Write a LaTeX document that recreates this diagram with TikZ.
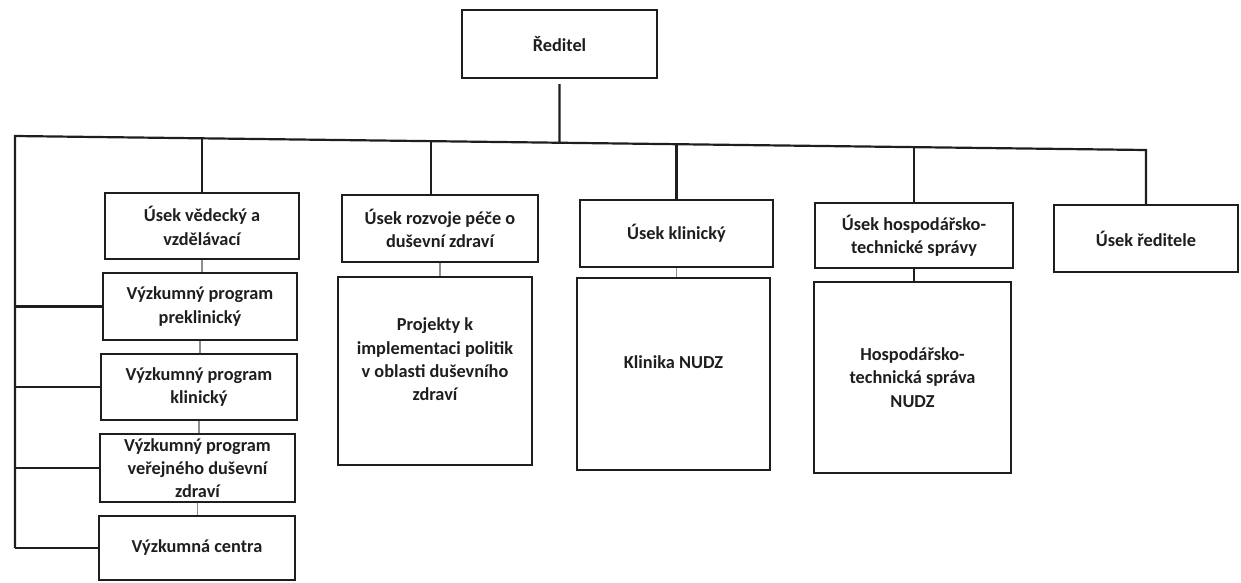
\documentclass[tikz,border=0pt]{standalone}
\usepackage{fontspec}
\setmainfont{Carlito}
\definecolor{ink}{HTML}{1E1E1E}
\begin{document}
\begin{tikzpicture}[x=1pt,y=-1pt,
  ln/.style={line width=2.2pt, draw=ink},
  faint/.style={line width=1.3pt, draw=ink!50},
  box/.style={draw=ink, line width=2.2pt, align=center, inner sep=0pt, text=ink,
              font=\fontsize{18.3}{23.3}\selectfont\bfseries}]
\useasboundingbox (0,0) rectangle (1241,582);

\node[box, minimum width=195, minimum height=68] (dir) at (559.5,44) {Ředitel};

\node[box, minimum width=194, minimum height=66] (vedecky) at (202,226) {Úsek vědecký a\\vzdělávací};
\node[box, minimum width=196, minimum height=67] (rozvoj) at (440,228.5) {Úsek rozvoje péče o\\duševní zdraví};
\node[box, minimum width=193, minimum height=67] (klin) at (676.5,233.5) {Úsek klinický};
\node[box, minimum width=198, minimum height=65] (hosp) at (914,235.5) {Úsek hospodářsko-\\technické správy};
\node[box, minimum width=184, minimum height=67] (redit) at (1146,238.5) {Úsek ředitele};

\node[box, minimum width=194, minimum height=67] (preklin) at (200,306.5) {Výzkumný program\\preklinický};
\node[box, minimum width=196, minimum height=66] (vpklin) at (199,387) {Výzkumný program\\klinický};
\node[box, minimum width=195, minimum height=68] (vpver) at (197.5,468) {Výzkumný program\\veřejného duševní\\zdraví};
\node[box, minimum width=196, minimum height=64] (centra) at (197,548) {Výzkumná centra};

\node[box, minimum width=194, minimum height=188] (projekty) at (435,371) {Projekty k\\implementaci politik\\v oblasti duševního\\zdraví\\\mbox{}};
\node[box, minimum width=193, minimum height=192] (klinika) at (673.5,374) {Klinika NUDZ\\\mbox{}};
\node[box, minimum width=197, minimum height=191] (hospsub) at (912.5,377.5) {Hospodářsko-\\technická správa\\NUDZ};

% bus line
\coordinate (L) at (15,136);
\coordinate (R) at (1146,150);
\path (L) -- (R)
  coordinate[pos=0.1653] (b1)
  coordinate[pos=0.3678] (b2)
  coordinate[pos=0.4814] (b3)
  coordinate[pos=0.5849] (b4)
  coordinate[pos=0.7949] (b5);

\draw[ln] ([yshift=-5pt]dir.south) -- (b3);
\draw[ln] (L |- centra.west) -- (L) -- (R) -- (R |- redit.north);
\draw[ln] (b1) -- (b1 |- vedecky.north);
\draw[ln] (b2) -- (b2 |- rozvoj.north);
\draw[ln] (b4) -- (b4 |- klin.north);
\draw[ln] (b5) -- (b5 |- hosp.north);

% left spine branches
\draw[ln] (L |- preklin.west) -- (preklin.west);
\draw[ln] (L |- vpklin.west) -- (vpklin.west);
\draw[ln] (L |- vpver.west) -- (vpver.west);
\draw[ln] (L |- centra.west) -- (centra.west);

% short links
\draw[faint] (vedecky.south) -- (vedecky.south |- preklin.north);
\draw[faint] (preklin.south) -- (preklin.south |- vpklin.north);
\draw[faint] (vpklin.south) -- (vpklin.south |- vpver.north);
\draw[faint] (vpver.south) -- (vpver.south |- centra.north);
\draw[faint] (rozvoj.south) -- (rozvoj.south |- projekty.north);
\draw[faint] (klin.south) -- (klin.south |- klinika.north);
\draw[ln] (hosp.south) -- (hosp.south |- hospsub.north);
\end{tikzpicture}
\end{document}
